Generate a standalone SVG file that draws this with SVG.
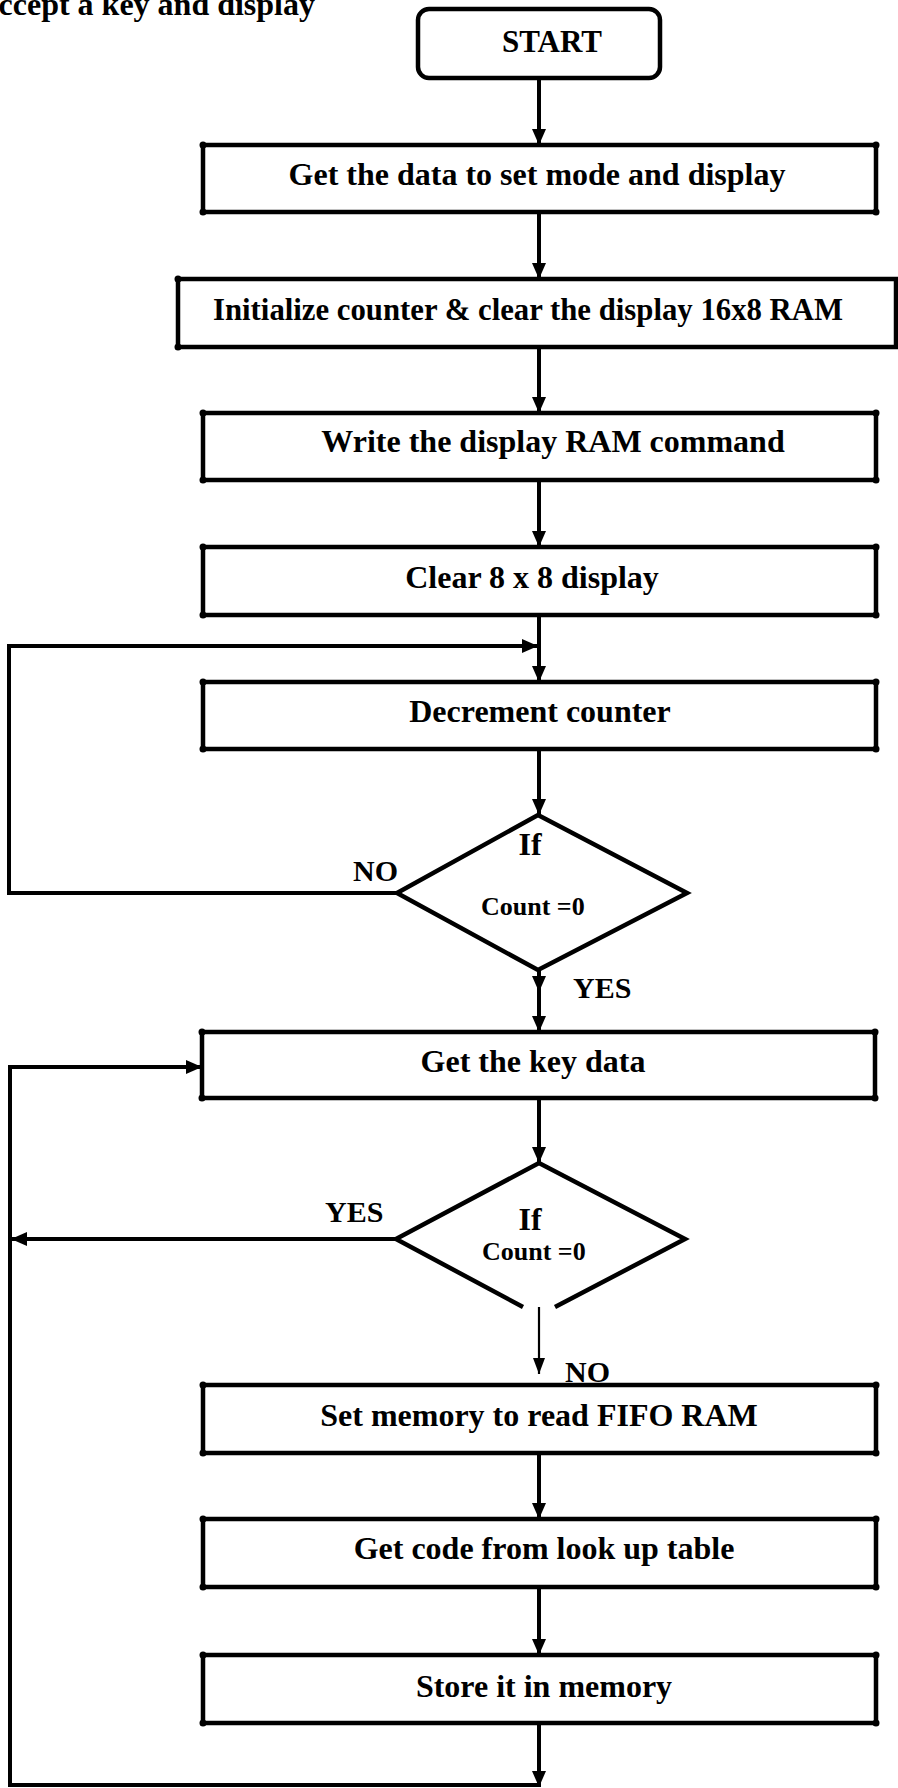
<svg xmlns="http://www.w3.org/2000/svg" width="898" height="1788" viewBox="0 0 898 1788">
<style>
  .box { fill: #ffffff; stroke: #000000; stroke-width: 4.5; }
  .dot { fill: #000000; }
  .t { font-family: "Liberation Serif", "Times New Roman", serif; font-weight: bold; font-size: 32px; fill: #000000; text-anchor: middle; }
  .lbl { font-family: "Liberation Serif", "Times New Roman", serif; font-weight: bold; font-size: 30px; fill: #000000; }
  .cnt { font-family: "Liberation Serif", "Times New Roman", serif; font-weight: bold; font-size: 26px; fill: #000000; }
  .conn { fill: none; stroke: #000000; stroke-width: 4; }
  .thin { fill: none; stroke: #000000; stroke-width: 2.2; }
</style>
<defs>
  <marker id="ah" viewBox="0 0 16 14" refX="16" refY="7" markerWidth="16" markerHeight="14" markerUnits="userSpaceOnUse" orient="auto">
    <path d="M0,0 L16,7 L0,14 z" fill="#000000"/>
  </marker>
  <marker id="ahs" viewBox="0 0 16 12" refX="16" refY="6" markerWidth="16" markerHeight="12" markerUnits="userSpaceOnUse" orient="auto">
    <path d="M0,0 L16,6 L0,12 z" fill="#000000"/>
  </marker>
</defs>

<text x="315" y="15" class="t" style="text-anchor:end">Accept a key and display</text>

<g id="connectors">
  <line class="conn" x1="539" y1="78" x2="539" y2="145" marker-end="url(#ah)"/>
  <line class="conn" x1="539" y1="212" x2="539" y2="279" marker-end="url(#ah)"/>
  <line class="conn" x1="539" y1="347" x2="539" y2="413" marker-end="url(#ah)"/>
  <line class="conn" x1="539" y1="480" x2="539" y2="547" marker-end="url(#ah)"/>
  <line class="conn" x1="539" y1="615" x2="539" y2="682" marker-end="url(#ah)"/>
  <polyline class="conn" points="397,893 9,893 9,646 538,646" marker-end="url(#ah)"/>
  <line class="conn" x1="539" y1="749" x2="539" y2="815" marker-end="url(#ah)"/>
  <path class="conn" d="M539,970 L539,992 L539,1032" marker-mid="url(#ah)" marker-end="url(#ah)"/>
  <line class="conn" x1="539" y1="1098" x2="539" y2="1163" marker-end="url(#ah)"/>
  <line class="conn" x1="396" y1="1239" x2="11" y2="1239" marker-end="url(#ah)"/>
  <line class="thin" x1="539" y1="1307" x2="539" y2="1374" marker-end="url(#ahs)"/>
  <line class="conn" x1="539" y1="1453" x2="539" y2="1519" marker-end="url(#ah)"/>
  <line class="conn" x1="539" y1="1587" x2="539" y2="1655" marker-end="url(#ah)"/>
  <line class="conn" x1="539" y1="1723" x2="539" y2="1787" marker-end="url(#ah)"/>
  <polyline class="conn" points="539,1785 10,1785 10,1067 202,1067" marker-end="url(#ah)"/>
</g>

<g id="start">
  <rect class="box" x="418" y="9" width="242" height="69" rx="11"/>
  <text x="552" y="52" class="t" style="font-size:31px">START</text>
</g>

<g id="n1">
  <rect class="box" x="203" y="145" width="673" height="67"/>
  <circle class="dot" cx="203" cy="145" r="3.5"/><circle class="dot" cx="876" cy="145" r="3.5"/>
  <circle class="dot" cx="203" cy="212" r="3.5"/><circle class="dot" cx="876" cy="212" r="3.5"/>
  <text x="537" y="185" class="t">Get the data to set mode and display</text>
</g>

<g id="n2">
  <rect class="box" x="178" y="279" width="718" height="68"/>
  <circle class="dot" cx="178" cy="279" r="3.5"/><circle class="dot" cx="178" cy="347" r="3.5"/>
  <text x="528" y="320" class="t" textLength="630" lengthAdjust="spacingAndGlyphs">Initialize counter &amp; clear the display 16x8 RAM</text>
</g>

<g id="n3">
  <rect class="box" x="203" y="413" width="673" height="67"/>
  <circle class="dot" cx="203" cy="413" r="3.5"/><circle class="dot" cx="876" cy="413" r="3.5"/>
  <circle class="dot" cx="203" cy="480" r="3.5"/><circle class="dot" cx="876" cy="480" r="3.5"/>
  <text x="553" y="452" class="t">Write the display RAM command</text>
</g>

<g id="n4">
  <rect class="box" x="203" y="547" width="673" height="68"/>
  <circle class="dot" cx="203" cy="547" r="3.5"/><circle class="dot" cx="876" cy="547" r="3.5"/>
  <circle class="dot" cx="203" cy="615" r="3.5"/><circle class="dot" cx="876" cy="615" r="3.5"/>
  <text x="532" y="588" class="t">Clear 8 x 8 display</text>
</g>

<g id="n5">
  <rect class="box" x="203" y="682" width="673" height="67"/>
  <circle class="dot" cx="203" cy="682" r="3.5"/><circle class="dot" cx="876" cy="682" r="3.5"/>
  <circle class="dot" cx="203" cy="749" r="3.5"/><circle class="dot" cx="876" cy="749" r="3.5"/>
  <text x="540" y="722" class="t">Decrement counter</text>
</g>

<g id="d1">
  <polygon class="box" points="538,815 687,893 538,970 397,893"/>
  <text x="530" y="855" class="t">If</text>
  <text x="481" y="915" class="cnt">Count =0</text>
  <text x="353" y="881" class="lbl">NO</text>
  <text x="573" y="998" class="lbl">YES</text>
</g>

<g id="n6">
  <rect class="box" x="202" y="1032" width="673" height="66"/>
  <circle class="dot" cx="202" cy="1032" r="3.5"/><circle class="dot" cx="875" cy="1032" r="3.5"/>
  <circle class="dot" cx="202" cy="1098" r="3.5"/><circle class="dot" cx="875" cy="1098" r="3.5"/>
  <text x="533" y="1072" class="t">Get the key data</text>
</g>

<g id="d2">
  <path class="box" d="M523,1307 L396,1239 L539,1163 L685,1239 L555,1307" style="fill:#ffffff"/>
  <text x="530" y="1230" class="t">If</text>
  <text x="482" y="1260" class="cnt">Count =0</text>
  <text x="325" y="1222" class="lbl">YES</text>
  <text x="565" y="1382" class="lbl">NO</text>
</g>

<g id="n7">
  <rect class="box" x="203" y="1385" width="673" height="68"/>
  <circle class="dot" cx="203" cy="1385" r="3.5"/><circle class="dot" cx="876" cy="1385" r="3.5"/>
  <circle class="dot" cx="203" cy="1453" r="3.5"/><circle class="dot" cx="876" cy="1453" r="3.5"/>
  <text x="539" y="1426" class="t">Set memory to read FIFO RAM</text>
</g>

<g id="n8">
  <rect class="box" x="203" y="1519" width="673" height="68"/>
  <circle class="dot" cx="203" cy="1519" r="3.5"/><circle class="dot" cx="876" cy="1519" r="3.5"/>
  <circle class="dot" cx="203" cy="1587" r="3.5"/><circle class="dot" cx="876" cy="1587" r="3.5"/>
  <text x="544" y="1559" class="t">Get code from look up table</text>
</g>

<g id="n9">
  <rect class="box" x="203" y="1655" width="673" height="68"/>
  <circle class="dot" cx="203" cy="1655" r="3.5"/><circle class="dot" cx="876" cy="1655" r="3.5"/>
  <circle class="dot" cx="203" cy="1723" r="3.5"/><circle class="dot" cx="876" cy="1723" r="3.5"/>
  <text x="544" y="1697" class="t">Store it in memory</text>
</g>
</svg>
